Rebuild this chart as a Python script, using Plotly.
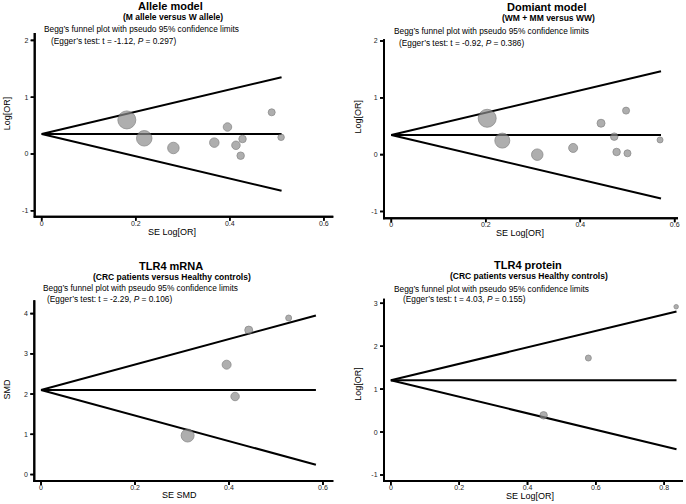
import plotly.graph_objects as go

W, H = 686, 504
FONT = "Liberation Sans, Arial, sans-serif"

# ---------------- data ----------------
titles = ["Allele model", "Domiant model", "TLR4 mRNA", "TLR4 protein"]
subtitles = ["(M allele versus W allele)", "(WM + MM versus WW)",
             "(CRC patients versus Healthy controls)", "(CRC patients versus Healthy controls)"]
egger_t = ["-1.12", "-0.92", "-2.29", "4.03"]
egger_p = ["0.297", "0.386", "0.106", "0.155"]
x_titles = ["SE Log[OR]", "SE Log[OR]", "SE SMD", "SE Log[OR]"]
y_titles = ["Log[OR]", "Log[OR]", "SMD", "Log[OR]"]

se_allele = [0.181, 0.218, 0.280, 0.367, 0.395, 0.413, 0.427, 0.423, 0.489, 0.509]
est_allele = [0.60, 0.276, 0.106, 0.20, 0.475, 0.153, 0.264, -0.03, 0.734, 0.294]
w_allele = [18, 15.5, 11.5, 9.5, 8.5, 8.5, 7.5, 7.5, 7, 6.5]

se_dom = [0.203, 0.235, 0.309, 0.385, 0.444, 0.472, 0.477, 0.497, 0.500, 0.569]
est_dom = [0.64, 0.247, 0.0, 0.118, 0.553, 0.317, 0.047, 0.775, 0.024, 0.259]
w_dom = [18, 15, 11.5, 9, 8, 7.5, 7.5, 7, 7, 6]

se_mrna = [0.312, 0.395, 0.413, 0.442, 0.527]
est_mrna = [0.97, 2.73, 1.94, 3.59, 3.89]
w_mrna = [13, 9, 8.5, 8, 6]

se_prot = [0.447, 0.578, 0.835]
est_prot = [0.39, 1.725, 2.92]
w_prot = [7.5, 6, 4.5]

pooled = [0.352, 0.347, 2.10, 1.205]
z_mult = [1.96, 1.96, 3.17, 1.92]
funnel_se_max = [0.51, 0.571, 0.585, 0.836]

x_ticks = [[0, 0.2, 0.4, 0.6], [0, 0.2, 0.4, 0.6], [0, 0.2, 0.4, 0.6], [0, 0.2, 0.4, 0.6, 0.8]]
x_ticktext = [["0", "0.2", "0.4", "0.6"], ["0", "0.2", "0.4", "0.6"],
              ["0", "0.2", "0.4", "0.6"], ["0", "0.2", "0.4", "0.6", "0.8"]]
y_ticks = [[-1, 0, 1, 2], [-1, 0, 1, 2], [0, 1, 2, 3, 4], [-1, 0, 1, 2, 3]]
y_ticktext = [["-1", "0", "1", "2"], ["-1", "0", "1", "2"],
              ["0", "1", "2", "3", "4"], ["-1", "0", "1", "2", "3"]]

# ---------------- layout geometry (pixels) ----------------
panels = [
    dict(se=se_allele, est=est_allele, w=w_allele,
         xpx=(34.7, 333.3), ypx=(33, 216.7), xr=(-0.0149, 0.620), yr=(-1.104, 2.13),
         title=(170.7, 6), sub=(173, 16.7), begg=(41.7, 29.3), egger=(49.3, 40.5),
         ytit=(7.3, 113), xtit=(171.7, 232)),
    dict(se=se_dom, est=est_dom, w=w_dom,
         xpx=(384, 678), ypx=(39.3, 218.3), xr=(-0.0155, 0.607), yr=(-1.12, 2.03),
         title=(546.7, 7.3), sub=(548, 18.3), begg=(392.3, 30.7), egger=(397.3, 43.3),
         ytit=(357.7, 116.7), xtit=(520, 233)),
    dict(se=se_mrna, est=est_mrna, w=w_mrna,
         xpx=(34.3, 333.3), ypx=(300.3, 481), xr=(-0.0143, 0.622), yr=(-0.16, 4.33),
         title=(170.7, 266), sub=(172, 277), begg=(40.7, 288), egger=(45, 298.7),
         ytit=(6.7, 388.7), xtit=(180, 495)),
    dict(se=se_prot, est=est_prot, w=w_prot,
         xpx=(384, 683), ypx=(298.7, 481), xr=(-0.02, 0.855), yr=(-1.14, 3.107),
         title=(528.3, 265.3), sub=(528.8, 276), begg=(392, 289.3), egger=(401.3, 299.3),
         ytit=(358, 383.7), xtit=(529.7, 496)),
]


def px(x):
    return x / W


def py(y):
    return 1 - y / H


fig = go.Figure()
annotations = []
shapes = []
layout_axes = {}
TICK_PX = 4
PAD = 8  # extra pixels of the overlay (frame) subplot around each panel

for i, p in enumerate(panels):
    n = i + 1
    xa = "x" if n == 1 else f"x{n}"
    ya = "y" if n == 1 else f"y{n}"
    xkey = "xaxis" if n == 1 else f"xaxis{n}"
    ykey = "yaxis" if n == 1 else f"yaxis{n}"
    fx, fy = f"x{n + 4}", f"y{n + 4}"
    fxkey, fykey = f"xaxis{n + 4}", f"yaxis{n + 4}"

    xr0, xr1 = p["xr"]
    yr0, yr1 = p["yr"]
    x0p, x1p = p["xpx"]
    y0p, y1p = p["ypx"]
    ux = (xr1 - xr0) / (x1p - x0p)   # data units per pixel
    uy = (yr1 - yr0) / (y1p - y0p)

    pe, z, sm = pooled[i], z_mult[i], funnel_se_max[i]
    line = dict(color="black", width=2)
    fig.add_trace(go.Scatter(x=[0, sm], y=[pe, pe + z * sm], mode="lines", line=line,
                             xaxis=xa, yaxis=ya, showlegend=False, hoverinfo="skip"))
    fig.add_trace(go.Scatter(x=[0, sm], y=[pe, pe - z * sm], mode="lines", line=line,
                             xaxis=xa, yaxis=ya, showlegend=False, hoverinfo="skip"))
    fig.add_trace(go.Scatter(x=[0, sm], y=[pe, pe], mode="lines", line=line,
                             xaxis=xa, yaxis=ya, showlegend=False, hoverinfo="skip"))
    fig.add_trace(go.Scatter(x=p["se"], y=p["est"], mode="markers",
                             marker=dict(size=p["w"], color="#8c8c8c",
                                         line=dict(color="#5c5c5c", width=0.8)),
                             xaxis=xa, yaxis=ya, showlegend=False, cliponaxis=False))

    # frame (left + bottom axis lines) and tick marks on an overlay subplot
    fig.add_trace(go.Scatter(x=[xr0, xr0, xr1], y=[yr1, yr0, yr0], mode="lines",
                             line=dict(color="black", width=2),
                             xaxis=fx, yaxis=fy, showlegend=False, hoverinfo="skip"))
    tx, ty = [], []
    for tv in x_ticks[i]:
        tx += [tv, tv, None]
        ty += [yr0, yr0 - TICK_PX * uy, None]
    for tv in y_ticks[i]:
        tx += [xr0, xr0 - TICK_PX * ux, None]
        ty += [tv, tv, None]
    fig.add_trace(go.Scatter(x=tx, y=ty, mode="lines", line=dict(color="black", width=1.6),
                             connectgaps=False,
                             xaxis=fx, yaxis=fy, showlegend=False, hoverinfo="skip"))

    # the same frame and ticks as thin filled paper rectangles
    def rect(xl, xr_, yt, yb):
        shapes.append(dict(type="rect", xref="paper", yref="paper",
                           x0=px(xl), x1=px(xr_), y0=py(yb), y1=py(yt),
                           fillcolor="black", line=dict(width=0), layer="above"))

    rect(x0p - 1, x0p + 1, y0p, y1p + 1)          # y-axis line
    rect(x0p - 1, x1p, y1p - 1, y1p + 1)          # x-axis line
    for tv in x_ticks[i]:
        xt = x0p + (tv - xr0) / ux
        rect(xt - 0.8, xt + 0.8, y1p, y1p + TICK_PX)
    for tv in y_ticks[i]:
        yt = y1p - (tv - yr0) / uy
        rect(x0p - TICK_PX, x0p, yt - 0.8, yt + 0.8)

    common = dict(showgrid=False, zeroline=False, showline=False, automargin=False,
                  tickfont=dict(family=FONT, size=7, color="#222222"))
    layout_axes[xkey] = dict(common, domain=[px(x0p), px(x1p)],
                             range=[xr0, xr1], anchor=ya, tickmode="array",
                             tickvals=x_ticks[i], ticktext=x_ticktext[i],
                             ticks="", ticklabelstandoff=1)
    layout_axes[ykey] = dict(common, domain=[py(y1p), py(y0p)],
                             range=[yr0, yr1], anchor=xa, tickmode="array",
                             tickvals=y_ticks[i], ticktext=y_ticktext[i],
                             ticks="outside", ticklen=4, tickcolor="rgba(0,0,0,0)")

    fl, fr = max(x0p - PAD, 0), min(x1p + PAD, W)
    ft, fb = max(y0p - PAD, 0), min(y1p + PAD, H)
    layout_axes[fxkey] = dict(visible=False, anchor=fy, domain=[px(fl), px(fr)],
                              range=[xr0 + (fl - x0p) * ux, xr0 + (fr - x0p) * ux])
    layout_axes[fykey] = dict(visible=False, anchor=fx, domain=[py(fb), py(ft)],
                              range=[yr0 + (y1p - fb) * uy, yr0 + (y1p - ft) * uy])

    def ann(text, pos, size, xanchor="center", textangle=0, bold=False):
        annotations.append(dict(
            text=f"<b>{text}</b>" if bold else text,
            x=px(pos[0]), y=py(pos[1]), xref="paper", yref="paper",
            xanchor=xanchor, yanchor="middle", showarrow=False, textangle=textangle,
            font=dict(family=FONT, size=size, color="black")))

    ann(titles[i], p["title"], 11, bold=True)
    ann(subtitles[i], p["sub"], 8.5, bold=True)
    ann("Begg\u2019s funnel plot with pseudo 95% confidence limits", p["begg"], 8.3, xanchor="left")
    ann(f"(Egger\u2019s test: t = {egger_t[i]}, <i>P</i> = {egger_p[i]})", p["egger"], 8.3, xanchor="left")
    ann(y_titles[i], p["ytit"], 9, textangle=-90)
    ann(x_titles[i], p["xtit"], 9)

fig.update_layout(width=W, height=H, margin=dict(l=0, r=0, t=0, b=0, pad=0),
                  paper_bgcolor="white", plot_bgcolor="rgba(0,0,0,0)", template="none",
                  font=dict(family=FONT), annotations=annotations, shapes=shapes,
                  **layout_axes)

fig.write_html("out.html", config={"displayModeBar": False, "staticPlot": True},
               post_script="document.body.style.margin='0';")
